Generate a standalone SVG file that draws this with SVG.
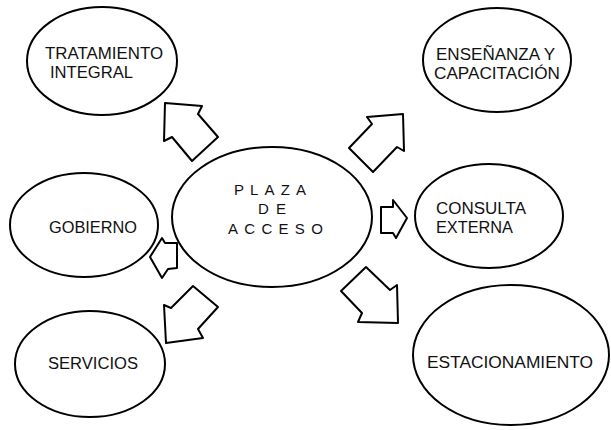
<svg xmlns="http://www.w3.org/2000/svg" width="611" height="430" viewBox="0 0 611 430">
<style>
.n{fill:none;stroke:#000;stroke-width:2}
.t{font-family:"Liberation Sans",Arial,sans-serif;font-size:16px;fill:#111}
.c{font-family:"Liberation Sans",Arial,sans-serif;font-size:15px;fill:#111}
.a{fill:#fff;stroke:#000;stroke-width:2;stroke-linejoin:round}
</style>
<rect width="611" height="430" fill="#fff"/>
<g id="connectors">
<polygon class="a" points="165,103 202,106 198,114 218,137 192,161 172,137 164,141"/>
<polygon class="a" points="403,114 367,117 372,124 349,148 373,172 397,147 404,151"/>
<polygon class="a" points="381,207 393,207 393,200 407,218 396,238 393,233 381,233"/>
<polygon class="a" points="162,238 165,243 177,243 177,268 168,269 162,278 150,257"/>
<polygon class="a" points="166,343 164,305 171,308 193,286 218,307 198,329 203,338"/>
<polygon class="a" points="398,323 397,285 390,290 366,267 341,291 362,313 358,322"/>
</g>
<g id="plaza">
<ellipse class="n" cx="272" cy="217" rx="100" ry="70"/>
<text class="c" x="234" y="195" letter-spacing="6.1">PLAZA</text>
<text class="c" x="258" y="214" letter-spacing="7.2">DE</text>
<text class="c" x="228" y="234" letter-spacing="6.3">ACCESO</text>
</g>
<g id="tratamiento">
<ellipse class="n" cx="102" cy="61" rx="75" ry="54"/>
<text class="t" x="45" y="59" textLength="118" lengthAdjust="spacingAndGlyphs">TRATAMIENTO</text>
<text class="t" x="50" y="77.5" textLength="83" lengthAdjust="spacingAndGlyphs">INTEGRAL</text>
</g>
<g id="ensenanza">
<ellipse class="n" cx="497" cy="60" rx="74" ry="52"/>
<text class="t" x="436" y="60" textLength="119" lengthAdjust="spacingAndGlyphs">ENSEÑANZA Y</text>
<text class="t" x="434" y="78.5" textLength="126" lengthAdjust="spacingAndGlyphs">CAPACITACIÓN</text>
</g>
<g id="gobierno">
<ellipse class="n" cx="84" cy="225" rx="74" ry="52"/>
<text class="t" x="49" y="233" textLength="88" lengthAdjust="spacingAndGlyphs">GOBIERNO</text>
</g>
<g id="consulta">
<ellipse class="n" cx="489" cy="216" rx="74" ry="52"/>
<text class="t" x="436" y="214" textLength="90" lengthAdjust="spacingAndGlyphs">CONSULTA</text>
<text class="t" x="436" y="233" textLength="77" lengthAdjust="spacingAndGlyphs">EXTERNA</text>
</g>
<g id="servicios">
<ellipse class="n" cx="90" cy="364" rx="75" ry="53"/>
<text class="t" x="48" y="369" textLength="90" lengthAdjust="spacingAndGlyphs">SERVICIOS</text>
</g>
<g id="estacionamiento">
<ellipse class="n" cx="511" cy="355" rx="98" ry="70"/>
<text class="t" x="427" y="368" textLength="166" lengthAdjust="spacingAndGlyphs">ESTACIONAMIENTO</text>
</g>
</svg>
